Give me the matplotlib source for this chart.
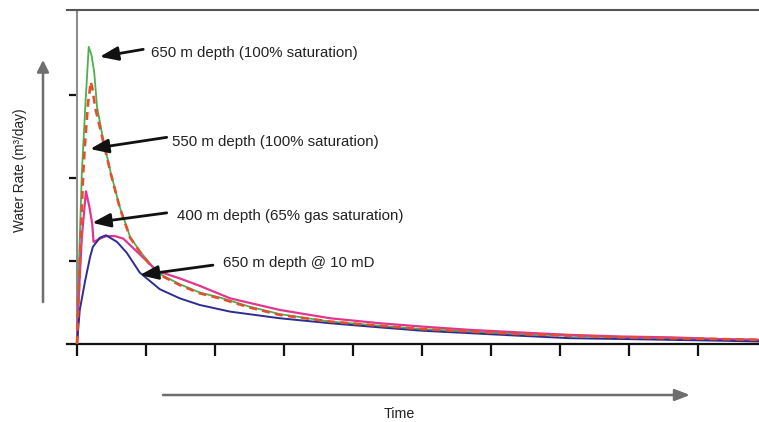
import matplotlib
matplotlib.use("Agg")
import matplotlib.pyplot as plt
from matplotlib.patches import FancyArrowPatch

plt.rcParams['font.family'] = ['Liberation Sans', 'DejaVu Sans']

# ---- data ----
green_t = [0, 0.03, 0.07, 0.12, 0.17, 0.21, 0.25, 0.29, 0.38, 0.49, 0.62, 0.77, 0.91,
           1.16, 1.49, 1.78, 2.07, 2.5, 2.94, 3.67, 4.39, 5.0, 5.7, 6.4, 7.14, 7.9, 8.6, 9.3, 9.9]
green_v = [0, 1.0, 2.06, 2.86, 3.58, 3.48, 3.27, 2.86, 2.46, 2.06, 1.65, 1.29, 1.12,
           0.86, 0.72, 0.62, 0.56, 0.45, 0.36, 0.27, 0.22, 0.18, 0.15, 0.12, 0.10, 0.08, 0.07, 0.06, 0.05]

red_t = [0, 0.05, 0.09, 0.12, 0.16, 0.20, 0.23, 0.26, 0.32, 0.38, 0.49, 0.62, 0.77, 0.91,
         1.16, 1.49, 1.78, 2.07, 2.5, 2.94, 3.67, 4.39, 5.0, 5.7, 6.4, 7.14, 7.9, 8.6, 9.3, 9.9]
red_v = [0, 1.2, 2.06, 2.46, 2.9, 3.16, 3.05, 2.86, 2.65, 2.44, 2.05, 1.64, 1.28, 1.11,
         0.85, 0.71, 0.61, 0.55, 0.44, 0.35, 0.27, 0.22, 0.18, 0.15, 0.12, 0.10, 0.08, 0.07, 0.06, 0.05]

magenta_t = [0, 0.02, 0.07, 0.13, 0.18, 0.22, 0.24, 0.29, 0.36, 0.43, 0.55, 0.67, 0.91,
             1.16, 1.49, 1.78, 2.22, 2.94, 3.67, 4.39, 5.0, 5.7, 6.4, 7.14, 7.9, 8.6, 9.3, 9.9]
magenta_v = [0, 0.49, 1.29, 1.84, 1.65, 1.45, 1.23, 1.25, 1.28, 1.30, 1.30, 1.27, 1.08,
             0.88, 0.79, 0.70, 0.55, 0.41, 0.31, 0.25, 0.21, 0.17, 0.14, 0.11, 0.09, 0.08, 0.06, 0.05]

blue_t = [0, 0.04, 0.12, 0.19, 0.23, 0.33, 0.42, 0.58, 0.72, 0.91, 1.2, 1.49, 1.78,
          2.22, 2.94, 3.67, 4.39, 5.0, 5.7, 6.4, 7.14, 7.9, 8.6, 9.3, 9.9]
blue_v = [0, 0.41, 0.77, 1.05, 1.17, 1.28, 1.31, 1.23, 1.10, 0.86, 0.66, 0.55, 0.47,
          0.39, 0.31, 0.25, 0.20, 0.16, 0.13, 0.10, 0.07, 0.06, 0.05, 0.04, 0.03]

labels = ["650 m depth (100% saturation)",
          "550 m depth (100% saturation)",
          "400 m depth (65% gas saturation)",
          "650 m depth @ 10 mD"]
x_ticks = list(range(0, 10))
y_ticks = [1, 2, 3]

# ---- figure ----
fig = plt.figure(figsize=(7.59, 4.22), dpi=100)
ax = fig.add_axes([67/759, 78/422, 1 - 67/759, 334/422])
ax.set_xlim(-0.145, 9.884)
ax.set_ylim(0, 4.024)

ax.plot(green_t, green_v, color='#4cb04c', lw=1.3, zorder=3)
ax.plot(red_t, red_v, color='#e2512e', lw=1.9, ls=(0, (3, 2)), zorder=4)
ax.plot(magenta_t, magenta_v, color='#e23590', lw=1.6, zorder=3)
ax.plot(blue_t, blue_v, color='#2d2d8f', lw=1.4, zorder=3)

# spines
ax.spines['right'].set_visible(False)
ax.spines['left'].set_position(('data', 0))
ax.spines['left'].set_color('#8c8c8c')
ax.spines['left'].set_linewidth(1.5)
ax.spines['top'].set_color('#555555')
ax.spines['top'].set_linewidth(1.5)
ax.spines['bottom'].set_color('#111111')
ax.spines['bottom'].set_linewidth(1.6)

ax.set_xticks(x_ticks)
ax.set_yticks(y_ticks)
ax.tick_params(axis='x', direction='out', length=8.5, width=1.6, color='#111111',
               labelbottom=False)
ax.tick_params(axis='y', direction='out', length=6, width=1.6, color='#111111',
               labelleft=False)

# annotations: (tip, tail, text position)
arrow_spec = [
    ((0.33, 3.46), (0.96, 3.55), (1.07, 3.51)),
    ((0.19, 2.35), (1.30, 2.49), (1.38, 2.43)),
    ((0.22, 1.46), (1.30, 1.58), (1.45, 1.54)),
    ((0.91, 0.83), (1.97, 0.95), (2.12, 0.98)),
]
for lab, (tip, tail, tpos) in zip(labels, arrow_spec):
    ax.annotate('', xy=tip, xytext=tail,
                arrowprops=dict(arrowstyle='-|>,head_length=1.1,head_width=0.42',
                                color='#111111', lw=2.0, shrinkA=0, shrinkB=0),
                annotation_clip=False, zorder=6)
    ax.text(tpos[0], tpos[1], lab, fontsize=10.8, color='#222222',
            ha='left', va='center', zorder=6)

# axis labels and direction arrows (figure coordinates)
W, H = 759, 422
fig.text(20/W, 1 - 170/H, 'Water Rate (m³/day)', rotation=90, fontsize=9.8,
         color='#222222', ha='center', va='center')
fig.text(399/W, 1 - 414/H, 'Time', fontsize=10.3, color='#222222',
         ha='center', va='center')

arr_y = FancyArrowPatch((43/W, 1 - 302/H), (43/W, 1 - 60/H),
                        transform=fig.transFigure,
                        arrowstyle='-|>,head_length=7,head_width=3.5',
                        color='#6e6e6e', lw=1.8, shrinkA=0, shrinkB=0)
arr_x = FancyArrowPatch((163/W, 1 - 395/H), (690/W, 1 - 395/H),
                        transform=fig.transFigure,
                        arrowstyle='-|>,head_length=9,head_width=3.5',
                        color='#6e6e6e', lw=1.8, shrinkA=0, shrinkB=0)
fig.add_artist(arr_y)
fig.add_artist(arr_x)

fig.savefig('out.png', dpi=100)
